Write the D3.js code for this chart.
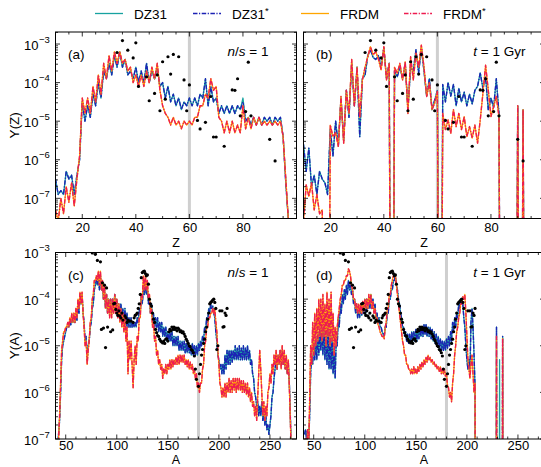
<!DOCTYPE html>
<html>
<head>
<meta charset="utf-8">
<script src="https://cdn.jsdelivr.net/npm/d3@7"></script>
<style>
  body { margin: 0; background: #fff; }
  svg { font-family: "Liberation Sans", Arial, sans-serif; }
</style>
</head>
<body>
<script>
// values are log10(Y); -20 marks a zero abundance (line drops out of the frame)

// ---- Y(Z), Z = 10..97 ----
var zStart = 10;
// (a) n/s = 1
var dz31_a = [-6.5,-6.9,-6.8,-6.9,-6.3,-6.5,-6.4,-6.9,-6.4,-6.0,
  -4.5,-5.0,-4.6,-4.9,-4.3,-4.6,-4.0,-4.4,-3.7,-3.9,
  -3.5,-3.8,-3.3,-3.6,-3.2,-3.6,-3.4,-3.8,-3.7,-3.9,
  -3.6,-4.0,-3.7,-4.0,-3.5,-4.0,-3.7,-3.9,-3.6,-4.1,
  -4.0,-4.4,-4.1,-4.5,-4.3,-4.6,-4.4,-4.7,-4.5,-4.6,
  -4.4,-4.6,-4.4,-4.6,-4.3,-4.4,-3.9,-4.6,-4.1,-4.5,
  -4.4,-4.8,-4.6,-4.8,-4.6,-4.8,-4.6,-4.8,-4.6,-4.7,
  -4.4,-5.0,-4.9,-5.1,-4.9,-5.1,-4.9,-5.1,-4.9,-5.0,
  -4.9,-5.1,-4.9,-5.0,-4.9,-5.4,-6.6,-7.6];
var dz31s_a = [-6.5,-6.9,-6.8,-6.9,-6.3,-6.5,-6.4,-6.9,-6.4,-6.0,
  -4.5,-5.0,-4.6,-4.9,-4.3,-4.6,-4.0,-4.4,-3.7,-3.9,
  -3.5,-3.8,-3.3,-3.6,-3.2,-3.6,-3.4,-3.8,-3.7,-3.9,
  -3.6,-4.0,-3.7,-4.0,-3.5,-4.0,-3.7,-3.9,-3.6,-4.1,
  -4.0,-4.4,-4.1,-4.5,-4.3,-4.6,-4.4,-4.7,-4.5,-4.6,
  -4.4,-4.6,-4.4,-4.6,-4.3,-4.4,-3.9,-4.6,-4.1,-4.5,
  -4.4,-4.8,-4.6,-4.8,-4.6,-4.8,-4.6,-4.8,-4.6,-4.7,
  -4.5,-5.0,-4.9,-5.1,-4.9,-5.1,-4.9,-5.1,-4.9,-5.0,
  -4.9,-5.1,-4.9,-5.0,-4.9,-5.4,-6.6,-7.6];
var frdm_a = [-7.3,-7.6,-7.0,-7.4,-6.7,-7.1,-6.6,-7.2,-6.5,-5.9,
  -4.4,-4.8,-4.4,-4.8,-4.1,-4.5,-3.8,-4.3,-3.5,-3.9,
  -3.3,-3.7,-3.2,-3.5,-3.2,-3.5,-3.4,-3.7,-3.6,-4.0,
  -3.8,-4.1,-3.8,-4.1,-3.7,-4.0,-3.6,-3.9,-3.5,-4.2,
  -4.6,-4.8,-4.9,-5.1,-4.9,-5.1,-5.0,-5.2,-5.0,-5.1,
  -5.0,-5.1,-4.9,-4.9,-4.6,-4.6,-4.3,-4.4,-3.9,-4.2,
  -4.1,-4.9,-5.0,-5.3,-5.0,-5.3,-5.0,-5.3,-5.1,-5.3,
  -4.6,-5.2,-4.9,-5.2,-4.9,-5.1,-4.9,-5.1,-5.0,-5.1,
  -5.0,-5.1,-5.0,-5.1,-5.0,-5.4,-6.5,-7.6];
var frdms_a = [-7.3,-7.6,-7.0,-7.4,-6.7,-7.1,-6.6,-7.2,-6.5,-5.9,
  -4.4,-4.8,-4.4,-4.8,-4.1,-4.5,-3.8,-4.3,-3.5,-3.9,
  -3.3,-3.7,-3.2,-3.5,-3.2,-3.5,-3.4,-3.7,-3.6,-4.0,
  -3.8,-4.1,-3.8,-4.1,-3.7,-4.0,-3.6,-3.9,-3.5,-4.2,
  -4.6,-4.8,-4.9,-5.1,-4.9,-5.1,-5.0,-5.2,-5.0,-5.1,
  -5.0,-5.1,-4.9,-4.9,-4.6,-4.6,-4.3,-4.4,-3.9,-4.2,
  -4.1,-4.9,-5.0,-5.3,-5.0,-5.3,-5.0,-5.3,-5.1,-5.3,
  -4.6,-5.2,-4.9,-5.2,-4.9,-5.1,-4.9,-5.1,-5.0,-5.1,
  -5.0,-5.1,-5.0,-5.1,-5.0,-5.4,-6.5,-7.6];
// (b) t = 1 Gyr
var dz31_b = [-5.6,-6.3,-5.7,-6.7,-6.4,-6.9,-6.3,-6.5,-6.6,-6.9,
  -5.2,-5.9,-5.0,-5.65,-4.4,-5.5,-4.2,-4.9,-3.5,-4.6,
  -3.6,-5.4,-3.9,-3.8,-3.3,-3.15,-3.35,-3.4,-3.3,-3.6,
  -3.1,-3.9,-3.5,-20,-3.7,-3.85,-3.6,-3.9,-3.5,-4.7,
  -3.6,-3.7,-3.15,-3.75,-3.1,-3.7,-4.35,-3.9,-4.7,-4.45,
  -4.2,-20,-4.05,-4.5,-4.0,-4.35,-4.05,-4.6,-4.15,-4.5,
  -4.25,-4.6,-4.3,-4.55,-4.2,-4.1,-3.75,-4.15,-3.85,-4.7,
  -4.4,-4.65,-3.9,-4.8,-20,-20,-20,-20,-20,-20,
  -4.6,-20,-4.7,-20,-20,-20,-20,-20];
var dz31s_b = [-5.6,-6.3,-5.7,-6.7,-6.4,-6.9,-6.3,-6.5,-6.6,-6.9,
  -5.2,-5.9,-5.0,-5.65,-4.4,-5.5,-4.2,-4.9,-3.5,-4.6,
  -3.6,-5.4,-3.9,-3.8,-3.3,-3.15,-3.35,-3.4,-3.3,-3.6,
  -3.1,-3.9,-3.5,-20,-3.7,-3.85,-3.6,-3.9,-3.5,-4.7,
  -3.6,-3.7,-3.15,-3.75,-3.1,-3.7,-4.35,-3.9,-4.7,-4.45,
  -4.2,-20,-4.05,-4.5,-4.0,-4.35,-4.05,-4.6,-4.15,-4.5,
  -4.25,-4.6,-4.3,-4.55,-4.2,-4.1,-3.75,-4.15,-3.85,-4.7,
  -4.4,-4.65,-3.9,-4.8,-20,-20,-20,-20,-20,-20,
  -4.6,-20,-4.7,-20,-20,-20,-20,-20];
var frdm_b = [-7.6,-6.65,-6.95,-6.6,-7.3,-6.9,-7.4,-7.3,-20,-20,
  -5.1,-5.4,-5.3,-5.65,-4.36,-5.57,-4.2,-4.8,-3.4,-4.6,
  -3.6,-4.9,-3.93,-3.6,-3.33,-3.07,-3.28,-3.2,-3.4,-3.67,
  -3.07,-3.93,-3.5,-20,-3.6,-3.76,-3.5,-3.93,-3.46,-4.8,
  -3.33,-3.93,-3.24,-3.6,-3.03,-3.6,-4.36,-4.0,-4.7,-4.53,
  -4.23,-20,-4.8,-5.22,-4.97,-5.31,-4.7,-5.14,-4.8,-5.22,
  -4.88,-5.4,-5.14,-5.44,-5.1,-5.57,-4.97,-4.28,-3.55,-4.19,
  -4.88,-4.62,-4.36,-4.88,-20,-20,-20,-20,-20,-20,
  -4.6,-20,-4.7,-20,-20,-20,-20,-20];
var frdms_b = [-7.6,-6.65,-6.95,-6.6,-7.3,-6.9,-7.4,-7.3,-20,-20,
  -5.1,-5.4,-5.3,-5.65,-4.36,-5.57,-4.2,-4.8,-3.4,-4.6,
  -3.6,-4.9,-3.93,-3.6,-3.33,-3.07,-3.28,-3.2,-3.4,-3.67,
  -3.07,-3.93,-3.5,-20,-3.6,-3.76,-3.5,-3.93,-3.46,-4.8,
  -3.33,-3.93,-3.24,-3.6,-3.03,-3.6,-4.36,-4.0,-4.7,-4.53,
  -4.23,-20,-4.8,-5.22,-4.97,-5.31,-4.7,-5.14,-4.8,-5.22,
  -4.88,-5.4,-5.14,-5.44,-5.1,-5.57,-4.97,-4.28,-3.55,-4.19,
  -4.88,-4.62,-4.36,-4.88,-20,-20,-20,-20,-20,-20,
  -4.6,-20,-4.7,-20,-20,-20,-20,-20];

// solar r-process, by Z
var solarZ =    [33,35,37,39,40,41,44,45,47,48,49,50,51,52,53,54,56,58,59,60,63,64,66,68,69,70,73,76,77,78,79,81,82,83,90,92];
var solarZlog = [-3.22,-2.91,-3.16,-3.36,-2.97,-4.1,-3.85,-4.47,-4.28,-3.8,-4.73,-3.46,-4.43,-3.33,-3.78,-3.27,-3.33,-3.93,-4.73,-4.06,
  -4.98,-5.2,-5.03,-4.36,-5.41,-5.41,-5.65,-4.19,-4.2,-3.9,-4.86,-4.75,-3.47,-4.86,-5.47,-6.03];

// ---- Y(A) ----
// (c) n/s = 1, A = 42..271
var aStartC = 42;
var dz31_c = [-7.1,-6.9,-6.6,-6.0,-5.3,-5.0,-4.9,-4.8,-4.7,-4.6,
  -4.55,-4.6,-4.45,-4.55,-4.4,-4.5,-4.35,-4.5,-4.3,-4.45,
  -4.1,-4.3,-3.9,-4.1,-3.9,-4.3,-4.5,-4.9,-4.8,-5.3,
  -5.0,-4.9,-4.6,-4.5,-4.2,-4.1,-3.8,-3.7,-3.6,-3.7,
  -3.55,-3.8,-3.5,-3.8,-3.7,-4.0,-3.8,-4.2,-3.9,-4.3,
  -4.0,-4.3,-4.0,-4.3,-4.0,-4.2,-3.9,-4.3,-4.0,-4.3,
  -4.1,-4.4,-4.1,-4.4,-4.2,-4.5,-4.2,-4.6,-4.3,-4.6,
  -4.4,-4.6,-4.4,-4.6,-4.5,-4.6,-4.5,-4.6,-4.4,-4.5,
  -4.2,-4.3,-3.9,-4.1,-3.8,-3.9,-3.7,-3.9,-3.8,-4.1,
  -4.0,-4.3,-4.1,-4.4,-4.3,-4.6,-4.4,-4.6,-4.4,-4.7,
  -4.5,-4.7,-4.5,-4.8,-4.6,-4.8,-4.6,-4.9,-4.7,-4.9,
  -4.7,-4.9,-4.7,-5.0,-4.8,-5.0,-4.8,-5.0,-4.8,-5.1,
  -4.9,-5.1,-4.9,-5.1,-4.9,-5.15,-4.95,-5.15,-4.95,-5.15,
  -5.0,-5.2,-4.95,-5.2,-5.0,-5.2,-5.0,-5.2,-4.95,-5.1,
  -4.9,-5.0,-4.8,-4.9,-4.6,-4.7,-4.4,-4.5,-4.2,-4.3,
  -4.1,-4.2,-4.15,-4.3,-4.4,-4.7,-4.9,-5.2,-5.3,-5.5,
  -5.4,-5.6,-5.4,-5.6,-5.2,-5.5,-5.1,-5.4,-5.1,-5.4,
  -5.1,-5.35,-5.1,-5.3,-5.0,-5.3,-5.05,-5.3,-5.0,-5.3,
  -5.05,-5.3,-5.0,-5.3,-5.05,-5.3,-5.0,-5.3,-5.1,-5.4,
  -5.3,-5.6,-5.7,-6.0,-6.1,-6.3,-6.2,-6.5,-6.3,-6.5,
  -6.2,-6.6,-6.4,-6.7,-6.5,-6.8,-6.7,-6.9,-6.7,-6.5,
  -6.1,-6.0,-5.7,-5.5,-5.3,-5.5,-5.2,-5.4,-5.1,-5.4,
  -5.1,-5.4,-5.2,-5.5,-5.3,-5.6,-5.4,-5.8,-6.5,-7.5];
var dz31s_c = [-7.1,-6.9,-6.6,-6.0,-5.3,-5.0,-4.9,-4.8,-4.7,-4.6,
  -4.55,-4.6,-4.45,-4.55,-4.4,-4.5,-4.35,-4.5,-4.3,-4.45,
  -4.1,-4.3,-3.9,-4.1,-3.9,-4.3,-4.5,-4.9,-4.8,-5.3,
  -5.0,-4.9,-4.6,-4.5,-4.2,-4.1,-3.8,-3.7,-3.6,-3.7,
  -3.55,-3.8,-3.5,-3.8,-3.7,-4.0,-3.8,-4.2,-3.9,-4.3,
  -4.0,-4.3,-4.0,-4.3,-4.0,-4.2,-3.9,-4.3,-4.0,-4.3,
  -4.1,-4.4,-4.1,-4.4,-4.2,-4.5,-4.2,-4.6,-4.3,-4.6,
  -4.4,-4.6,-4.4,-4.6,-4.5,-4.6,-4.5,-4.6,-4.4,-4.5,
  -4.2,-4.3,-3.9,-4.1,-3.8,-3.9,-3.7,-3.9,-3.8,-4.1,
  -4.0,-4.3,-4.1,-4.4,-4.3,-4.6,-4.4,-4.6,-4.4,-4.7,
  -4.5,-4.7,-4.5,-4.8,-4.6,-4.8,-4.6,-4.9,-4.7,-4.9,
  -4.7,-4.9,-4.7,-5.0,-4.8,-5.0,-4.8,-5.0,-4.8,-5.1,
  -4.9,-5.1,-4.9,-5.1,-4.9,-5.15,-4.95,-5.15,-4.95,-5.15,
  -5.0,-5.2,-4.95,-5.2,-5.0,-5.2,-5.0,-5.2,-4.95,-5.1,
  -4.9,-5.0,-4.8,-4.9,-4.6,-4.7,-4.4,-4.5,-4.2,-4.3,
  -4.1,-4.2,-4.15,-4.3,-4.4,-4.7,-4.9,-5.2,-5.3,-5.5,
  -5.4,-5.6,-5.4,-5.6,-5.2,-5.5,-5.1,-5.4,-5.1,-5.4,
  -5.1,-5.35,-5.1,-5.3,-5.0,-5.3,-5.05,-5.3,-5.0,-5.3,
  -5.05,-5.3,-5.0,-5.3,-5.05,-5.3,-5.0,-5.3,-5.1,-5.4,
  -5.3,-5.6,-5.7,-6.0,-6.1,-6.3,-6.2,-6.5,-6.3,-6.5,
  -6.2,-6.6,-6.4,-6.7,-6.5,-6.8,-6.7,-6.9,-6.7,-6.5,
  -6.1,-6.0,-5.7,-5.5,-5.3,-5.5,-5.2,-5.4,-5.1,-5.4,
  -5.1,-5.4,-5.2,-5.5,-5.3,-5.6,-5.4,-5.8,-6.5,-7.5];
var frdm_c = [-7.3,-7.0,-6.5,-5.8,-5.1,-4.9,-4.7,-4.7,-4.6,-4.6,
  -4.5,-4.6,-4.4,-4.5,-4.3,-4.5,-4.3,-4.5,-4.2,-4.4,
  -4.0,-4.2,-3.85,-4.1,-3.85,-4.3,-4.6,-5.0,-4.9,-5.4,
  -5.1,-4.9,-4.5,-4.4,-4.0,-3.9,-3.6,-3.6,-3.5,-3.6,
  -3.4,-3.7,-3.4,-3.8,-3.6,-4.0,-3.7,-4.2,-3.9,-4.3,
  -4.0,-4.4,-4.0,-4.4,-4.0,-4.3,-3.9,-4.3,-4.0,-4.4,
  -4.1,-4.5,-4.2,-4.6,-4.3,-4.7,-4.4,-4.9,-4.6,-5.6,
  -4.9,-5.3,-4.9,-5.4,-5.9,-5.3,-5.0,-5.4,-4.8,-4.9,
  -4.4,-4.4,-3.9,-4.0,-3.5,-3.8,-3.5,-3.8,-3.6,-4.0,
  -3.9,-4.3,-4.2,-4.6,-4.5,-4.9,-4.8,-5.2,-5.1,-5.4,
  -5.3,-5.5,-5.4,-5.7,-5.5,-5.6,-5.4,-5.6,-5.4,-5.5,
  -5.3,-5.5,-5.3,-5.45,-5.3,-5.4,-5.25,-5.4,-5.2,-5.4,
  -5.2,-5.35,-5.2,-5.35,-5.2,-5.4,-5.3,-5.45,-5.3,-5.5,
  -5.35,-5.5,-5.4,-5.6,-5.5,-5.7,-5.6,-5.9,-5.8,-6.0,
  -5.8,-5.8,-5.5,-5.4,-5.0,-4.9,-4.6,-4.6,-4.4,-4.4,
  -4.3,-4.3,-4.2,-4.3,-4.2,-4.5,-4.7,-5.1,-5.4,-5.8,
  -5.9,-6.1,-5.9,-6.1,-5.8,-6.1,-5.8,-6.0,-5.7,-6.0,
  -5.75,-6.0,-5.7,-5.95,-5.7,-6.0,-5.7,-5.95,-5.7,-5.95,
  -5.75,-6.0,-5.75,-6.0,-5.8,-6.05,-5.8,-6.1,-5.9,-6.2,
  -6.0,-6.3,-6.2,-6.5,-6.3,-6.6,-6.1,-5.6,-5.1,-5.5,
  -6.0,-6.5,-6.2,-6.6,-6.3,-6.5,-6.0,-5.9,-5.6,-5.8,
  -5.4,-5.6,-5.2,-5.4,-5.1,-5.5,-5.2,-5.4,-5.1,-5.5,
  -5.0,-5.4,-5.1,-5.5,-5.2,-5.6,-5.3,-5.9,-6.6,-7.5];
var frdms_c = [-7.3,-7.0,-6.5,-5.8,-5.1,-4.9,-4.7,-4.7,-4.6,-4.6,
  -4.5,-4.6,-4.4,-4.5,-4.3,-4.5,-4.3,-4.5,-4.2,-4.4,
  -4.0,-4.2,-3.85,-4.1,-3.85,-4.3,-4.6,-5.0,-4.9,-5.4,
  -5.1,-4.9,-4.5,-4.4,-4.0,-3.9,-3.6,-3.6,-3.5,-3.6,
  -3.4,-3.7,-3.4,-3.8,-3.6,-4.0,-3.7,-4.2,-3.9,-4.3,
  -4.0,-4.4,-4.0,-4.4,-4.0,-4.3,-3.9,-4.3,-4.0,-4.4,
  -4.1,-4.5,-4.2,-4.6,-4.3,-4.7,-4.4,-4.9,-4.6,-5.6,
  -4.9,-5.3,-4.9,-5.4,-5.9,-5.3,-5.0,-5.4,-4.8,-4.9,
  -4.4,-4.4,-3.9,-4.0,-3.5,-3.8,-3.5,-3.8,-3.6,-4.0,
  -3.9,-4.3,-4.2,-4.6,-4.5,-4.9,-4.8,-5.2,-5.1,-5.4,
  -5.3,-5.5,-5.4,-5.7,-5.5,-5.6,-5.4,-5.6,-5.4,-5.5,
  -5.3,-5.5,-5.3,-5.45,-5.3,-5.4,-5.25,-5.4,-5.2,-5.4,
  -5.2,-5.35,-5.2,-5.35,-5.2,-5.4,-5.3,-5.45,-5.3,-5.5,
  -5.35,-5.5,-5.4,-5.6,-5.5,-5.7,-5.6,-5.9,-5.8,-6.0,
  -5.8,-5.8,-5.5,-5.4,-5.0,-4.9,-4.6,-4.6,-4.4,-4.4,
  -4.3,-4.3,-4.2,-4.3,-4.2,-4.5,-4.7,-5.1,-5.4,-5.8,
  -5.9,-6.1,-5.9,-6.1,-5.8,-6.1,-5.8,-6.0,-5.7,-6.0,
  -5.75,-6.0,-5.7,-5.95,-5.7,-6.0,-5.7,-5.95,-5.7,-5.95,
  -5.75,-6.0,-5.75,-6.0,-5.8,-6.05,-5.8,-6.1,-5.9,-6.2,
  -6.0,-6.3,-6.2,-6.5,-6.3,-6.6,-6.1,-5.6,-5.1,-5.5,
  -6.0,-6.5,-6.2,-6.6,-6.3,-6.5,-6.0,-5.9,-5.6,-5.8,
  -5.4,-5.6,-5.2,-5.4,-5.1,-5.5,-5.2,-5.4,-5.1,-5.5,
  -5.0,-5.4,-5.1,-5.5,-5.2,-5.6,-5.3,-5.9,-6.6,-7.5];
// (d) t = 1 Gyr, A = 41..240
var aStartD = 41;
var dz31_d = [-6.9,-6.8,-7.0,-6.8,-7.2,-6.5,-5.6,-5.2,-5.4,-4.9,
  -5.3,-4.8,-5.3,-4.7,-5.2,-4.6,-5.1,-4.5,-5.2,-4.5,
  -5.3,-4.6,-5.4,-4.5,-5.5,-4.6,-5.5,-4.8,-5.6,-5.0,
  -5.7,-4.9,-5.0,-4.4,-4.6,-4.1,-4.3,-3.9,-4.1,-3.8,
  -4.0,-3.7,-3.9,-3.6,-3.8,-3.7,-3.9,-3.8,-4.1,-4.0,
  -4.3,-4.1,-4.4,-4.2,-4.4,-4.15,-4.35,-4.1,-4.3,-4.0,
  -4.3,-4.0,-4.2,-3.95,-4.2,-3.9,-4.2,-4.0,-4.3,-4.1,
  -4.4,-4.3,-4.5,-4.4,-4.6,-4.6,-4.7,-4.75,-4.8,-4.6,
  -4.6,-4.3,-4.3,-4.0,-4.0,-3.8,-3.8,-3.6,-3.6,-3.5,
  -3.7,-3.8,-4.0,-4.1,-4.3,-4.4,-4.6,-4.6,-4.8,-4.7,
  -4.9,-4.75,-4.95,-4.75,-4.95,-4.7,-4.9,-4.7,-4.9,-4.65,
  -4.9,-4.65,-4.85,-4.6,-4.8,-4.6,-4.8,-4.55,-4.75,-4.55,
  -4.8,-4.6,-4.8,-4.6,-4.85,-4.65,-4.9,-4.7,-4.95,-4.75,
  -5.0,-4.8,-5.05,-4.85,-5.1,-4.9,-5.1,-4.9,-5.1,-4.85,
  -5.05,-4.8,-5.0,-4.7,-4.9,-4.5,-4.7,-4.4,-4.6,-4.3,
  -4.4,-4.1,-4.2,-4.0,-4.1,-4.1,-4.4,-4.6,-5.0,-5.3,
  -5.5,-5.3,-5.6,-4.5,-4.2,-4.6,-5.2,-5.9,-20,-20,
  -20,-20,-20,-20,-20,-20,-20,-20,-20,-20,
  -20,-20,-20,-20,-20,-20,-20,-20,-4.6,-20,
  -20,-5.3,-20,-20,-4.8,-20,-20,-20,-20,-20];
var dz31s_d = [-6.9,-6.8,-7.0,-6.8,-7.2,-6.5,-5.6,-5.2,-5.4,-4.9,
  -5.3,-4.8,-5.3,-4.7,-5.2,-4.6,-5.1,-4.5,-5.2,-4.5,
  -5.3,-4.6,-5.4,-4.5,-5.5,-4.6,-5.5,-4.8,-5.6,-5.0,
  -5.7,-4.9,-5.0,-4.4,-4.6,-4.1,-4.3,-3.9,-4.1,-3.8,
  -4.0,-3.7,-3.9,-3.6,-3.8,-3.7,-3.9,-3.8,-4.1,-4.0,
  -4.3,-4.1,-4.4,-4.2,-4.4,-4.15,-4.35,-4.1,-4.3,-4.0,
  -4.3,-4.0,-4.2,-3.95,-4.2,-3.9,-4.2,-4.0,-4.3,-4.1,
  -4.4,-4.3,-4.5,-4.4,-4.6,-4.6,-4.7,-4.75,-4.8,-4.6,
  -4.6,-4.3,-4.3,-4.0,-4.0,-3.8,-3.8,-3.6,-3.6,-3.5,
  -3.7,-3.8,-4.0,-4.1,-4.3,-4.4,-4.6,-4.6,-4.8,-4.7,
  -4.9,-4.75,-4.95,-4.75,-4.95,-4.7,-4.9,-4.7,-4.9,-4.65,
  -4.9,-4.65,-4.85,-4.6,-4.8,-4.6,-4.8,-4.55,-4.75,-4.55,
  -4.8,-4.6,-4.8,-4.6,-4.85,-4.65,-4.9,-4.7,-4.95,-4.75,
  -5.0,-4.8,-5.05,-4.85,-5.1,-4.9,-5.1,-4.9,-5.1,-4.85,
  -5.05,-4.8,-5.0,-4.7,-4.9,-4.5,-4.7,-4.4,-4.6,-4.3,
  -4.4,-4.1,-4.2,-4.0,-4.1,-4.1,-4.4,-4.6,-5.0,-5.3,
  -5.5,-5.3,-5.6,-4.5,-4.2,-4.6,-5.2,-5.9,-20,-20,
  -20,-20,-20,-20,-20,-20,-20,-20,-20,-20,
  -20,-20,-20,-20,-20,-20,-20,-20,-4.6,-20,
  -20,-20,-20,-20,-4.8,-20,-20,-20,-20,-20];
var frdm_d = [-7.2,-7.0,-7.3,-6.8,-7.3,-6.2,-5.0,-5.4,-4.5,-5.2,
  -4.3,-5.0,-4.2,-4.9,-4.0,-4.8,-4.0,-4.9,-3.9,-4.8,
  -4.1,-5.0,-3.85,-4.8,-4.0,-5.0,-3.85,-4.9,-4.3,-5.2,
  -4.6,-5.0,-4.6,-4.4,-4.2,-4.0,-3.9,-3.7,-3.7,-3.6,
  -3.6,-3.5,-3.5,-3.35,-3.4,-3.5,-3.7,-3.8,-4.0,-4.0,
  -4.2,-4.1,-4.3,-4.1,-4.3,-4.1,-4.3,-4.05,-4.25,-4.0,
  -4.2,-4.0,-4.2,-3.9,-4.1,-3.9,-4.2,-4.05,-4.3,-4.2,
  -4.4,-4.4,-4.55,-4.6,-4.7,-4.75,-4.8,-4.8,-4.85,-4.6,
  -4.5,-4.2,-4.2,-3.9,-3.9,-3.7,-3.6,-3.5,-3.5,-3.5,
  -3.7,-3.9,-4.1,-4.3,-4.5,-4.7,-4.9,-5.0,-5.2,-5.2,
  -5.4,-5.4,-5.5,-5.5,-5.6,-5.5,-5.6,-5.45,-5.6,-5.5,
  -5.6,-5.45,-5.55,-5.4,-5.5,-5.35,-5.45,-5.3,-5.4,-5.25,
  -5.35,-5.2,-5.3,-5.25,-5.35,-5.3,-5.4,-5.35,-5.45,-5.4,
  -5.5,-5.45,-5.55,-5.45,-5.6,-5.5,-5.6,-5.5,-5.65,-5.6,
  -5.85,-5.9,-6.1,-6.0,-6.2,-5.8,-5.6,-5.2,-5.0,-4.7,
  -4.6,-4.4,-4.3,-4.1,-4.1,-3.95,-4.0,-3.9,-4.3,-4.8,
  -5.3,-5.5,-5.7,-5.4,-5.2,-5.6,-6.0,-5.8,-20,-20,
  -20,-20,-20,-20,-20,-20,-20,-20,-20,-20,
  -20,-20,-20,-20,-20,-20,-20,-20,-4.8,-20,
  -20,-20,-20,-20,-4.85,-20,-20,-20,-20,-20];
var frdms_d = [-7.2,-7.0,-7.3,-6.8,-7.3,-6.2,-5.0,-5.4,-4.5,-5.2,
  -4.3,-5.0,-4.2,-4.9,-4.0,-4.8,-4.0,-4.9,-3.9,-4.8,
  -4.1,-5.0,-3.85,-4.8,-4.0,-5.0,-3.85,-4.9,-4.3,-5.2,
  -4.6,-5.0,-4.6,-4.4,-4.2,-4.0,-3.9,-3.7,-3.7,-3.6,
  -3.6,-3.5,-3.5,-3.35,-3.4,-3.5,-3.7,-3.8,-4.0,-4.0,
  -4.2,-4.1,-4.3,-4.1,-4.3,-4.1,-4.3,-4.05,-4.25,-4.0,
  -4.2,-4.0,-4.2,-3.9,-4.1,-3.9,-4.2,-4.05,-4.3,-4.2,
  -4.4,-4.4,-4.55,-4.6,-4.7,-4.75,-4.8,-4.8,-4.85,-4.6,
  -4.5,-4.2,-4.2,-3.9,-3.9,-3.7,-3.6,-3.5,-3.5,-3.5,
  -3.7,-3.9,-4.1,-4.3,-4.5,-4.7,-4.9,-5.0,-5.2,-5.2,
  -5.4,-5.4,-5.5,-5.5,-5.6,-5.5,-5.6,-5.45,-5.6,-5.5,
  -5.6,-5.45,-5.55,-5.4,-5.5,-5.35,-5.45,-5.3,-5.4,-5.25,
  -5.35,-5.2,-5.3,-5.25,-5.35,-5.3,-5.4,-5.35,-5.45,-5.4,
  -5.5,-5.45,-5.55,-5.45,-5.6,-5.5,-5.6,-5.5,-5.65,-5.6,
  -5.85,-5.9,-6.1,-6.0,-6.2,-5.8,-5.6,-5.2,-5.0,-4.7,
  -4.6,-4.4,-4.3,-4.1,-4.1,-3.95,-4.0,-3.9,-4.3,-4.8,
  -5.3,-5.5,-5.7,-5.4,-5.2,-5.6,-6.0,-5.8,-20,-20,
  -20,-20,-20,-20,-20,-20,-20,-20,-20,-20,
  -20,-20,-20,-20,-20,-20,-20,-20,-4.8,-20,
  -20,-20,-20,-20,-4.85,-20,-20,-20,-20,-20];

// solar r-process, by A
var solarA =    [76,79,81,84,85,86,87,88,89,90,91,94,96,97,98,99,100,101,102,103,104,105,106,108,109,110,111,112,114,116,117,118,119,120,121,122,123,
  124,125,126,127,128,129,130,131,132,133,134,135,136,137,138,139,140,141,142,143,144,145,146,147,148,149,150,151,152,153,154,155,156,157,158,159,160,
  161,162,163,164,165,166,167,168,169,170,171,172,173,174,175,176,177,178,180,181,182,183,184,185,186,187,188,189,190,191,192,193,194,195,196,197,198,
  199,201,203,204,205,206,207,208];
var solarAlog = [-3.01,-3.04,-3.17,-3.2,-4.65,-3.65,-4.62,-3.7,-5.04,-3.76,-4.6,-4.7,-4.66,-4.1,-4.09,-4.22,-4.3,-4.35,-4.25,-4.36,-4.4,-4.3,-4.45,-4.36,-4.4,-4.5,-4.45,-4.47,-4.47,-4.5,-4.4,-4.35,-4.33,-4.3,-4.2,-4.1,-3.9,
  -3.54,-3.43,-3.41,-3.4,-3.45,-3.5,-3.48,-3.68,-4.0,-4.1,-4.15,-4.3,-4.43,-4.5,-4.65,-4.72,-4.78,-4.8,-4.86,-4.9,-4.92,-4.94,-4.9,-4.95,-4.86,-4.85,-4.9,-4.7,-4.65,-4.68,-4.6,-4.65,-4.6,-4.65,-4.62,-4.68,-4.62,
  -4.65,-4.7,-4.68,-4.72,-4.7,-4.75,-4.8,-4.86,-4.9,-4.95,-5.0,-5.02,-5.08,-5.1,-5.15,-5.22,-5.5,-5.72,-5.87,-5.6,-5.4,-5.2,-5.08,-4.95,-4.86,-4.7,-4.6,-4.43,-4.3,-4.1,-4.07,-4.05,-4.02,-4.0,-4.07,-4.2,-5.08,
  -5.0,-4.25,-4.25,-4.6,-4.59,-4.3,-4.35,-4.2];

// axis ticks
var zMajor = [20, 40, 60, 80];
var aMajor = [50, 100, 150, 200, 250];
var decades = [-7, -6, -5, -4, -3];

var legendNames = ["DZ31", "DZ31", "FRDM", "FRDM"];
var legendStar = [false, true, false, true];
var colors = ["#17a2a0", "#1c22b4", "#ffa500", "#ee1c50"];
var dashes = [null, "4.5,1.5,1.2,1.5", null, "4.5,1.5,1.2,1.5"];
var widths = [1.3, 1.4, 1.3, 1.4];

var W = 541, H = 467;
var svg = d3.select("body").append("svg").attr("width", W).attr("height", H);

var L = [55.5, 296.5], R = [303.5, 544.5];
var T = [32, 218.5], B = [252.5, 439];

var panels = [
  {name: "(a)", xr: L, yr: T, kind: "Z", start: zStart, series: [dz31_a, dz31s_a, frdm_a, frdms_a], note: "ns", ylab: "Y(Z)", pad: 4.5, labY: 246.5},
  {name: "(b)", xr: R, yr: T, kind: "Z", start: zStart, series: [dz31_b, dz31s_b, frdm_b, frdms_b], note: "t", pad: 4.5, labY: 246.5},
  {name: "(c)", xr: L, yr: B, kind: "A", start: aStartC, series: [dz31_c, dz31s_c, frdm_c, frdms_c], note: "ns", ylab: "Y(A)", pad: 2, labY: 464},
  {name: "(d)", xr: R, yr: B, kind: "A", start: aStartD, series: [dz31_d, dz31s_d, frdm_d, frdms_d], note: "t", pad: 2, labY: 464}
];

panels.forEach(function(p, pi) {
  var x = d3.scaleLinear().domain(p.kind == "Z" ? [10, 100] : [40, 276]).range(p.xr);
  var y = d3.scaleLog().domain(p.kind == "Z" ? [3e-8, 2.05e-3] : [1e-7, 1e-3]).range([p.yr[1], p.yr[0]]);
  var g = svg.append("g");

  var clipId = "clip" + pi;
  svg.append("clipPath").attr("id", clipId).append("rect")
    .attr("x", p.xr[0]).attr("y", p.yr[0])
    .attr("width", p.xr[1] - p.xr[0]).attr("height", p.yr[1] - p.yr[0]);

  // grey marker line
  var gx = p.kind == "Z" ? 60 : 180;
  g.append("line").attr("x1", x(gx)).attr("x2", x(gx))
    .attr("y1", p.yr[0]).attr("y2", p.yr[1])
    .attr("stroke", "#cfcfcf").attr("stroke-width", 3);

  var plot = g.append("g").attr("clip-path", "url(#" + clipId + ")");
  p.series.forEach(function(s, si) {
    var line = d3.line()
      .x(function(d, i) { return x(p.start + i); })
      .y(function(d) { return y(Math.pow(10, d)); });
    plot.append("path").datum(s)
      .attr("d", line)
      .attr("fill", "none")
      .attr("stroke", colors[si])
      .attr("stroke-width", widths[si])
      .attr("stroke-dasharray", dashes[si])
      .attr("stroke-linejoin", "round");
  });

  // solar points
  var px = p.kind == "Z" ? solarZ : solarA;
  var py = p.kind == "Z" ? solarZlog : solarAlog;
  plot.selectAll("circle.sol").data(px).enter().append("circle")
    .attr("cx", function(d) { return x(d); })
    .attr("cy", function(d, i) { return y(Math.pow(10, py[i])); })
    .attr("r", 1.6).attr("fill", "#000");

  // ticks (inward, all four sides)
  var majors = p.kind == "Z" ? zMajor : aMajor;
  var minorStep = p.kind == "Z" ? 5 : 10;
  var xdom = x.domain();
  var xt = d3.range(Math.ceil(xdom[0] / minorStep) * minorStep, xdom[1] + 0.01, minorStep);
  var tk = g.append("g").attr("stroke", "#000").attr("stroke-width", 0.8);
  xt.forEach(function(v) {
    var len = majors.indexOf(v) >= 0 ? 4.5 : 2.5;
    tk.append("line").attr("x1", x(v)).attr("x2", x(v)).attr("y1", p.yr[1]).attr("y2", p.yr[1] - len);
    tk.append("line").attr("x1", x(v)).attr("x2", x(v)).attr("y1", p.yr[0]).attr("y2", p.yr[0] + len);
  });
  var ydom = y.domain();
  for (var e = -8; e <= -2; e++) {
    for (var k = 1; k <= 9; k++) {
      var v = k * Math.pow(10, e);
      if (v < ydom[0] * 0.999 || v > ydom[1] * 1.001) continue;
      var len = k == 1 ? 4.5 : 2.5;
      tk.append("line").attr("x1", p.xr[0]).attr("x2", p.xr[0] + len).attr("y1", y(v)).attr("y2", y(v));
      tk.append("line").attr("x1", p.xr[1]).attr("x2", p.xr[1] - len).attr("y1", y(v)).attr("y2", y(v));
    }
  }

  // frame
  g.append("rect").attr("x", p.xr[0]).attr("y", p.yr[0])
    .attr("width", p.xr[1] - p.xr[0]).attr("height", p.yr[1] - p.yr[0])
    .attr("fill", "none").attr("stroke", "#000").attr("stroke-width", 1);

  // x tick labels through a d3 axis
  var ax = d3.axisBottom(x).tickValues(majors).tickSize(0).tickPadding(p.pad).tickFormat(d3.format("d"));
  var axg = g.append("g").attr("transform", "translate(0," + p.yr[1] + ")").call(ax);
  axg.select(".domain").remove();
  axg.selectAll("text").attr("font-size", 13).attr("font-family", "Liberation Sans, Arial, sans-serif").attr("fill", "#000");

  g.append("text").attr("x", (p.xr[0] + p.xr[1]) / 2).attr("y", p.labY)
    .attr("text-anchor", "middle").attr("font-size", 12.5).text(p.kind);

  // y tick labels on the left panels only
  if (p.ylab) {
    decades.forEach(function(e) {
      var yy = y(Math.pow(10, e));
      g.append("text").attr("x", p.xr[0] - 17).attr("y", yy + 5.5)
        .attr("text-anchor", "end").attr("font-size", 13).text("10");
      g.append("text").attr("x", p.xr[0] - 16.5).attr("y", yy - 1.5)
        .attr("font-size", 9.5).text("\u2212" + Math.abs(e));
    });
    g.append("text").attr("transform", "translate(19," + ((p.yr[0] + p.yr[1]) / 2) + ") rotate(-90)")
      .attr("text-anchor", "middle").attr("font-size", 13.5).text(p.ylab);
  }

  // panel label and condition
  g.append("text").attr("x", p.xr[0] + 12.5).attr("y", p.yr[0] + 27).attr("font-size", 13.5).text(p.name);
  var nt = g.append("text").attr("y", p.yr[0] + 24).attr("font-size", 13.5).attr("text-anchor", "end");
  if (p.note == "ns") {
    nt.attr("x", p.xr[0] + 213);
    nt.append("tspan").attr("font-style", "italic").text("n");
    nt.append("tspan").text("/");
    nt.append("tspan").attr("font-style", "italic").text("s");
    nt.append("tspan").text(" = 1");
  } else {
    nt.attr("x", p.xr[0] + 222);
    nt.append("tspan").attr("font-style", "italic").text("t");
    nt.append("tspan").text(" = 1 Gyr");
  }
});

// legend
var legX = [95, 193, 301, 404];
var lg = svg.append("g");
legendNames.forEach(function(n, i) {
  lg.append("line").attr("x1", legX[i]).attr("x2", legX[i] + 28).attr("y1", 13.5).attr("y2", 13.5)
    .attr("stroke", colors[i]).attr("stroke-width", 1.3).attr("stroke-dasharray", dashes[i]);
  var t = lg.append("text").attr("x", legX[i] + 39).attr("y", 18.5).attr("font-size", 13.5).text(n);
  if (legendStar[i]) t.append("tspan").attr("dy", -5).attr("font-size", 9.5).text("*");
});
</script>
</body>
</html>
